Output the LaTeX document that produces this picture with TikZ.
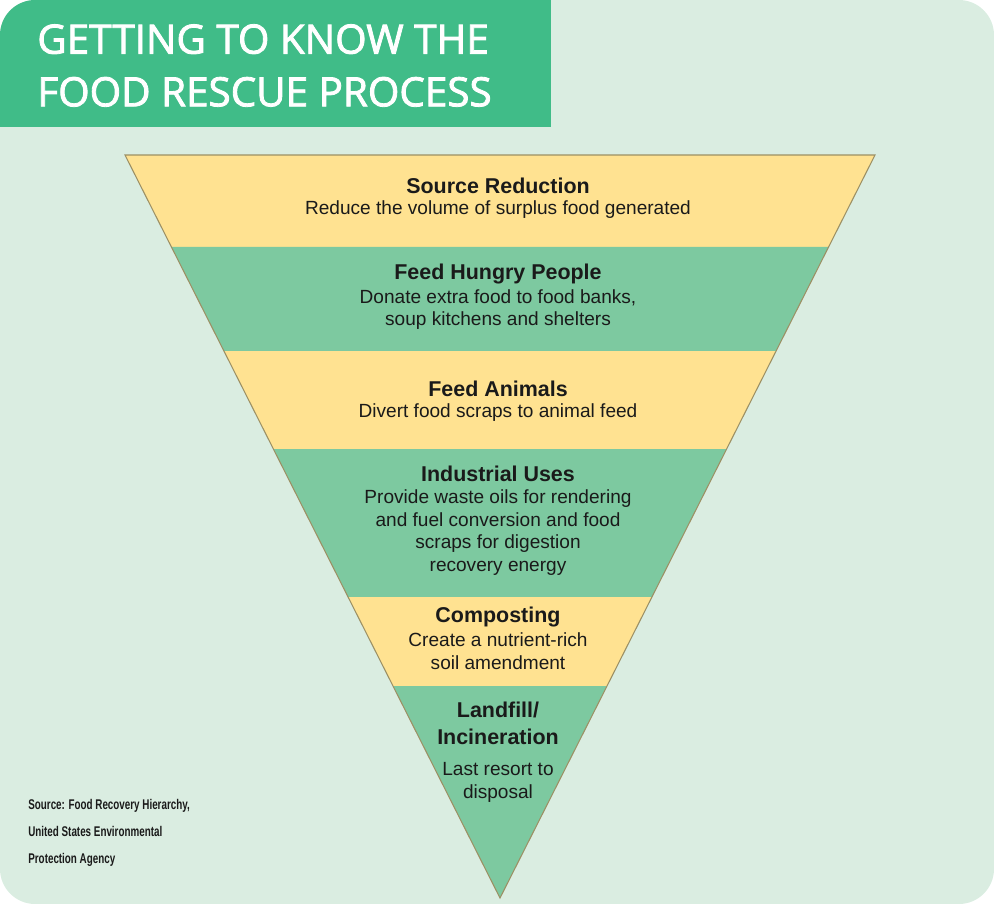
\documentclass[tikz,border=0pt]{standalone}
\usepackage{fontspec}
\setmainfont{Liberation Sans}
\newfontfamily\titlefont[FakeBold=2]{Open Sans}
\newfontfamily\srcfont[FakeStretch=0.7]{Liberation Sans}
\usetikzlibrary{calc}

\definecolor{bgmint}{HTML}{DAEDE1}
\definecolor{titlegreen}{HTML}{40BC88}
\definecolor{bandyellow}{HTML}{FFE291}
\definecolor{bandgreen}{HTML}{7DC9A0}
\definecolor{edgeline}{HTML}{9C9064}
\definecolor{ink}{HTML}{1A1A1A}

\begin{document}
\begin{tikzpicture}[x=0.02cm,y=-0.02cm,
    head/.style={font=\fontsize{12.2}{15.3}\selectfont\bfseries, text=ink, align=center, inner sep=0pt},
    body/.style={font=\fontsize{10.85}{13}\selectfont, text=ink, align=center, inner sep=0pt}]
    \useasboundingbox (0,0) rectangle (1000,907);

    % Background card and title bar
    \begin{scope}
        \clip[rounded corners=20] (0,0) rectangle (994,904);
        \fill[bgmint] (0,0) rectangle (994,904);
        \fill[titlegreen] (0,0) rectangle (551,127);
    \end{scope}
    \node[anchor=west, text=white, align=left, inner sep=0pt,
          font=\titlefont\fontsize{23}{30}\selectfont] (title) at (37,65.5)
          {GETTING TO KNOW THE\\FOOD RESCUE PROCESS};

    % Inverted triangle, cut into bands
    \coordinate (tl) at (125,155);
    \coordinate (tr) at (875,155);
    \coordinate (apex) at (500,898);
    \foreach \a/\b/\c in {0/0.1238/bandyellow, 0.1238/0.2638/bandgreen,
                          0.2638/0.3957/bandyellow, 0.3957/0.5949/bandgreen,
                          0.5949/0.7147/bandyellow, 0.7147/1/bandgreen}
        \fill[\c] ($(tl)!\a!(apex)$) -- ($(tr)!\a!(apex)$)
                  -- ($(tr)!\b!(apex)$) -- ($(tl)!\b!(apex)$) -- cycle;
    \draw[edgeline, line width=0.6pt] (tl) -- (tr) -- (apex) -- cycle;

    % Band texts
    \node[head] (srchead) at (498,186) {Source Reduction};
    \node[body] (srcbody) at (498,210) {Reduce the volume of surplus food generated};
    \node[head] (feedhead) at (498,274) {Feed Hungry People};
    \node[body] (feedbody) at (498,309.5) {Donate extra food to food banks,\\soup kitchens and shelters};
    \node[head] (animhead) at (498,389) {Feed Animals};
    \node[body] (animbody) at (498,413) {Divert food scraps to animal feed};
    \node[head] (indhead) at (498,474) {Industrial Uses};
    \node[body] (indbody) at (498,532.5) {Provide waste oils for rendering\\and fuel conversion and food\\scraps for digestion\\recovery energy};
    \node[head] (comphead) at (498,617) {Composting};
    \node[body] (compbody) at (498,651.5) {Create a nutrient-rich\\soil amendment};
    \node[head] (fillhead) at (498,723.5) {Landfill/\\Incineration};
    \node[body] (fillbody) at (498,782.5) {Last resort to\\disposal};

    % Source note
    \node[anchor=west, align=left, inner sep=0pt, text=ink,
          font=\srcfont\bfseries\fontsize{8}{15.3}\selectfont] (source) at (28,833)
          {Source: Food Recovery Hierarchy,\\United States Environmental\\Protection Agency};
\end{tikzpicture}
\end{document}
